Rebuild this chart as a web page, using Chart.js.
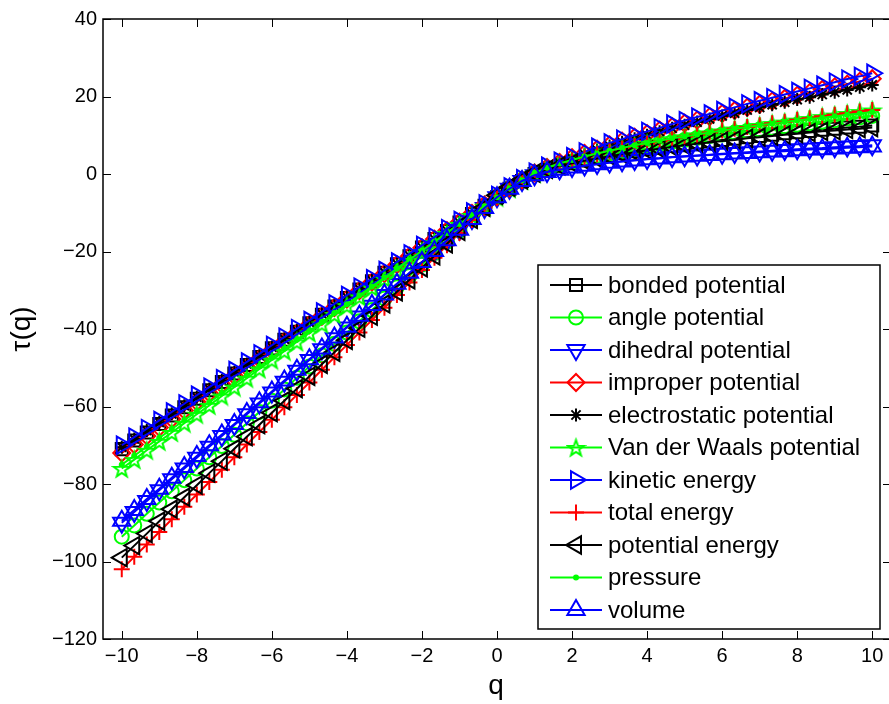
<!DOCTYPE html>
<html>
<head>
<meta charset="utf-8">
<script src="https://cdn.jsdelivr.net/npm/chart.js@4.4.0/dist/chart.umd.min.js"></script>
<style>
html, body { margin: 0; padding: 0; background: #fff; overflow: hidden; }
canvas { display: block; }
</style>
</head>
<body>
<canvas id="tau-chart" width="903" height="704"></canvas>
<script>
// tau(q) curves

var Q = [
	-10, -9.667, -9.333, -9, -8.667, -8.333, -8, -7.667, -7.333, -7,
	-6.667, -6.333, -6, -5.667, -5.333, -5, -4.667, -4.333, -4, -3.667,
	-3.333, -3, -2.667, -2.333, -2, -1.667, -1.333, -1, -0.667, -0.333,
	0, 0.333, 0.667, 1, 1.333, 1.667, 2, 2.333, 2.667, 3,
	3.333, 3.667, 4, 4.333, 4.667, 5, 5.333, 5.667, 6, 6.333,
	6.667, 7, 7.333, 7.667, 8, 8.333, 8.667, 9, 9.333, 9.667, 10
];

var bonded = [
	-71, -68.8, -66.7, -64.5, -62.3, -60.2, -58.0, -55.8, -53.7, -51.5, -49.3, -47.2, -45.0, -42.8, -40.7, -38.5,
	-36.3, -34.2, -32.0, -29.8, -27.7, -25.5, -23.3, -21.2, -19.0, -16.8, -14.7, -12.5, -10.3, -8.2, -6.0,
	-3.8, -1.8, 0.0, 1.1, 2.0, 2.8, 3.5, 4.2, 4.8, 5.4, 5.9, 6.4, 6.8, 7.3, 7.7,
	8.1, 8.4, 8.8, 9.1, 9.5, 9.8, 10.1, 10.5, 10.8, 11.1, 11.4, 11.7, 12.0, 12.2, 12.5
];
var angle = [
	-93.6, -90.7, -87.7, -84.8, -81.9, -79.0, -76.0, -73.1, -70.2, -67.3, -64.3, -61.4, -58.5, -55.6, -52.6, -49.7,
	-46.8, -43.8, -40.9, -38.0, -35.1, -32.1, -29.2, -26.3, -23.4, -20.4, -17.5, -14.6, -11.6, -8.7, -5.8,
	-3.6, -1.5, 0.2, 1.4, 2.4, 3.2, 4.0, 4.7, 5.4, 6.0, 6.6, 7.2, 7.8, 8.3, 8.8,
	9.3, 9.8, 10.2, 10.7, 11.1, 11.5, 11.9, 12.3, 12.7, 13.1, 13.5, 13.9, 14.3, 14.6, 15.0
];
var dihedral = [
	-90, -87.2, -84.4, -81.6, -78.8, -76.0, -73.2, -70.4, -67.6, -64.8, -62.0, -59.2, -56.4, -53.6, -50.8, -48.0,
	-45.2, -42.4, -39.6, -36.8, -34.0, -31.2, -28.4, -25.6, -22.8, -20.0, -17.2, -14.4, -11.6, -8.8, -6.0,
	-3.8, -1.8, -0.3, 0.5, 1.2, 1.8, 2.2, 2.6, 3.0, 3.3, 3.6, 3.9, 4.1, 4.4, 4.6,
	4.8, 5.0, 5.2, 5.4, 5.6, 5.8, 6.0, 6.2, 6.4, 6.6, 6.7, 6.9, 7.1, 7.2, 7.4
];
var improper = [
	-72, -69.8, -67.6, -65.4, -63.2, -61.0, -58.8, -56.6, -54.3, -52.1, -49.9, -47.7, -45.5, -43.3, -41.1, -38.9,
	-36.7, -34.5, -32.3, -30.1, -27.9, -25.7, -23.4, -21.2, -19.0, -16.8, -14.6, -12.4, -10.2, -8.0, -5.8,
	-3.6, -1.5, 0.3, 1.7, 3.0, 4.2, 5.3, 6.4, 7.5, 8.5, 9.5, 10.4, 11.3, 12.2, 13.1,
	13.9, 14.8, 15.6, 16.4, 17.2, 18.0, 18.8, 19.5, 20.3, 21.0, 21.8, 22.5, 23.2, 23.9, 24.6
];
var electrostatic = [
	-70.5, -68.4, -66.2, -64.1, -61.9, -59.8, -57.6, -55.5, -53.3, -51.2, -49.0, -46.9, -44.7, -42.6, -40.4, -38.3,
	-36.1, -34.0, -31.8, -29.7, -27.5, -25.4, -23.2, -21.1, -18.9, -16.8, -14.6, -12.5, -10.3, -8.2, -6.0,
	-3.8, -1.7, 0.2, 1.6, 2.9, 4.0, 5.1, 6.2, 7.2, 8.2, 9.1, 10.0, 10.9, 11.8, 12.6,
	13.4, 14.2, 15.0, 15.7, 16.5, 17.2, 17.9, 18.5, 19.2, 19.8, 20.5, 21.1, 21.7, 22.4, 23.0
];
var vanDerWaals = [
	-76, -73.7, -71.3, -69.0, -66.7, -64.3, -62.0, -59.7, -57.3, -55.0, -52.7, -50.3, -48.0, -45.7, -43.3, -41.0,
	-38.7, -36.3, -34.0, -31.7, -29.3, -27.0, -24.7, -22.3, -20.0, -17.7, -15.3, -13.0, -10.7, -8.3, -6.0,
	-3.8, -1.7, 0.2, 1.5, 2.6, 3.5, 4.4, 5.2, 5.9, 6.6, 7.3, 7.9, 8.5, 9.1, 9.6,
	10.1, 10.6, 11.1, 11.6, 12.0, 12.5, 13.0, 13.4, 13.9, 14.3, 14.8, 15.2, 15.6, 16.1, 16.5
];
var kinetic = [
	-70, -67.9, -65.7, -63.6, -61.4, -59.3, -57.1, -55.0, -52.8, -50.7, -48.5, -46.4, -44.2, -42.1, -39.9, -37.8,
	-35.6, -33.5, -31.3, -29.2, -27.0, -24.9, -22.7, -20.6, -18.4, -16.3, -14.1, -12.0, -9.8, -7.7, -5.5,
	-3.3, -1.2, 0.5, 2.0, 3.3, 4.5, 5.7, 6.9, 8.0, 9.0, 10.0, 11.0, 11.9, 12.9, 13.8,
	14.7, 15.5, 16.4, 17.2, 18.1, 18.9, 19.7, 20.5, 21.3, 22.1, 22.9, 23.7, 24.5, 25.2, 26.0
];
var totalEnergy = [
	-102, -98.8, -95.6, -92.4, -89.1, -85.9, -82.7, -79.5, -76.3, -73.1, -69.8, -66.6, -63.4, -60.2, -57.0, -53.8,
	-50.5, -47.3, -44.1, -40.9, -37.7, -34.5, -31.2, -28.0, -24.8, -21.6, -18.4, -15.2, -11.9, -8.7, -5.5,
	-3.2, -1.2, 0.5, 1.7, 2.7, 3.5, 4.3, 5.1, 5.8, 6.5, 7.2, 7.8, 8.4, 9.0, 9.6,
	10.1, 10.7, 11.2, 11.7, 12.1, 12.6, 13.1, 13.5, 14.0, 14.4, 14.9, 15.3, 15.7, 16.1, 16.5
];
var potentialEnergy = [
	-99, -95.9, -92.8, -89.6, -86.5, -83.4, -80.3, -77.2, -74.1, -70.9, -67.8, -64.7, -61.6, -58.5, -55.4, -52.2,
	-49.1, -46.0, -42.9, -39.8, -36.7, -33.5, -30.4, -27.3, -24.2, -21.1, -18.0, -14.8, -11.7, -8.6, -5.5,
	-3.4, -1.5, 0.2, 1.2, 2.1, 2.8, 3.4, 4.0, 4.6, 5.1, 5.6, 6.1, 6.5, 7.0, 7.4,
	7.8, 8.1, 8.5, 8.8, 9.2, 9.5, 9.8, 10.1, 10.4, 10.7, 11.0, 11.2, 11.5, 11.7, 12.0
];
var pressure = [
	-75, -72.7, -70.4, -68.1, -65.8, -63.5, -61.2, -58.9, -56.6, -54.3, -52.0, -49.7, -47.4, -45.1, -42.8, -40.5,
	-38.2, -35.9, -33.6, -31.3, -29.0, -26.7, -24.4, -22.1, -19.8, -17.5, -15.2, -12.9, -10.6, -8.3, -6.0,
	-3.7, -1.6, 0.3, 1.6, 2.7, 3.6, 4.5, 5.3, 6.0, 6.7, 7.4, 8.0, 8.6, 9.2, 9.7,
	10.2, 10.7, 11.2, 11.7, 12.1, 12.6, 13.0, 13.4, 13.8, 14.2, 14.5, 14.9, 15.3, 15.6, 16.0
];
var volume = [
	-89.5, -86.7, -83.9, -81.2, -78.4, -75.6, -72.8, -70.0, -67.2, -64.5, -61.7, -58.9, -56.1, -53.3, -50.5, -47.8,
	-45.0, -42.2, -39.4, -36.6, -33.8, -31.1, -28.3, -25.5, -22.7, -19.9, -17.1, -14.4, -11.6, -8.8, -6.0,
	-3.8, -1.8, -0.3, 0.5, 1.1, 1.7, 2.1, 2.5, 2.9, 3.2, 3.5, 3.8, 4.0, 4.3, 4.5,
	4.7, 4.9, 5.1, 5.3, 5.4, 5.6, 5.8, 5.9, 6.1, 6.3, 6.4, 6.6, 6.8, 6.9, 7.1
];

var seriesLabels = [
	'bonded potential', 'angle potential', 'dihedral potential', 'improper potential',
	'electrostatic potential', 'Van der Waals potential', 'kinetic energy', 'total energy',
	'potential energy', 'pressure', 'volume'
];
var seriesValues = [
	bonded, angle, dihedral, improper, electrostatic, vanDerWaals,
	kinetic, totalEnergy, potentialEnergy, pressure, volume
];

var xTicks = [-10, -8, -6, -4, -2, 0, 2, 4, 6, 8, 10];
var yTicks = [-120, -100, -80, -60, -40, -20, 0, 20, 40];

var FONT = "'Liberation Sans', Arial, Helvetica, sans-serif";

// 5 point star, matlab 'p'
function makePentagram(color, size, lw) {
	var c = document.createElement('canvas');
	c.width = size;
	c.height = size;
	var g = c.getContext('2d');
	var cx = size / 2, cy = size / 2 + 1;
	var R = size / 2 - lw;
	var r = R * 0.40;
	g.beginPath();
	for (var i = 0; i < 10; i++) {
		var a = -Math.PI / 2 + i * Math.PI / 5;
		var rr = (i % 2 === 0) ? R : r;
		g.lineTo(cx + rr * Math.cos(a), cy + rr * Math.sin(a));
	}
	g.closePath();
	g.strokeStyle = color;
	g.lineWidth = lw;
	g.stroke();
	return c;
}

var BLACK = '#000000', GREEN = '#00ff00', BLUE = '#0000ff', RED = '#ff0000';

var markers = [
	{ color: BLACK, style: 'rect', radius: 8.5, rotation: 0 },
	{ color: GREEN, style: 'circle', radius: 7, rotation: 0 },
	{ color: BLUE, style: 'triangle', radius: 10, rotation: 180 },
	{ color: RED, style: 'rectRot', radius: 8.5, rotation: 0 },
	{ color: BLACK, style: 'star', radius: 6.5, rotation: 0 },
	{ color: GREEN, style: makePentagram(GREEN, 21, 2), radius: 10, rotation: 0 },
	{ color: BLUE, style: 'triangle', radius: 10, rotation: 90 },
	{ color: RED, style: 'cross', radius: 8, rotation: 0 },
	{ color: BLACK, style: 'triangle', radius: 10, rotation: 270 },
	{ color: GREEN, style: 'circle', radius: 2, rotation: 0, filled: true },
	{ color: BLUE, style: 'triangle', radius: 10, rotation: 0 }
];

var datasets = seriesValues.map(function (vals, i) {
	var m = markers[i];
	return {
		label: seriesLabels[i],
		data: vals.map(function (v, k) { return { x: Q[k], y: v }; }),
		borderColor: m.color,
		borderWidth: 2,
		fill: false,
		tension: 0,
		pointStyle: m.style,
		pointRadius: m.radius,
		pointRotation: m.rotation,
		pointBorderColor: m.color,
		pointBorderWidth: 2,
		pointBackgroundColor: m.filled ? m.color : 'rgba(0,0,0,0)',
		order: seriesValues.length - 1 - i
	};
});

function fmtTick(v) {
	return v < 0 ? '\u2212' + Math.abs(v) : String(v);
}

// box, inward ticks, axis titles, legend inside the axes
var matlabAxes = {
	id: 'matlabAxes',
	afterDraw: function (chart) {
		var ctx = chart.ctx;
		var a = chart.chartArea;
		var xs = chart.scales.x, ys = chart.scales.y;
		ctx.save();
		ctx.strokeStyle = '#000';
		ctx.lineWidth = 1.5;
		ctx.strokeRect(a.left, a.top, a.right - a.left, a.bottom - a.top);
		ctx.lineWidth = 1;
		ctx.beginPath();
		xTicks.forEach(function (v) {
			var px = Math.round(xs.getPixelForValue(v)) + 0.5;
			ctx.moveTo(px, a.bottom); ctx.lineTo(px, a.bottom - 8);
			ctx.moveTo(px, a.top); ctx.lineTo(px, a.top + 8);
		});
		yTicks.forEach(function (v) {
			var py = Math.round(ys.getPixelForValue(v)) + 0.5;
			ctx.moveTo(a.left, py); ctx.lineTo(a.left + 8, py);
			ctx.moveTo(a.right, py); ctx.lineTo(a.right - 8, py);
		});
		ctx.stroke();

		// axis titles
		ctx.fillStyle = '#000';
		ctx.font = '28px ' + FONT;
		ctx.textAlign = 'center';
		ctx.textBaseline = 'alphabetic';
		ctx.fillText('q', 496, 694);
		ctx.save();
		ctx.translate(30, (a.top + a.bottom) / 2);
		ctx.rotate(-Math.PI / 2);
		ctx.fillText('\u03c4(q)', 0, 0);
		ctx.restore();

		// legend
		var lx = 538, ly = 265, lw = 342, lh = 364;
		ctx.fillStyle = '#fff';
		ctx.fillRect(lx, ly, lw, lh);
		ctx.lineWidth = 1.5;
		ctx.strokeStyle = '#000';
		ctx.strokeRect(lx, ly, lw, lh);
		ctx.font = '24px ' + FONT;
		ctx.textAlign = 'left';
		ctx.textBaseline = 'middle';
		seriesLabels.forEach(function (name, i) {
			var m = markers[i];
			var ry = 285 + i * 32.5;
			ctx.strokeStyle = m.color;
			ctx.lineWidth = 2;
			ctx.beginPath();
			ctx.moveTo(550, ry);
			ctx.lineTo(602, ry);
			ctx.stroke();
			ctx.fillStyle = m.filled ? m.color : 'rgba(0,0,0,0)';
			ctx.strokeStyle = m.color;
			Chart.helpers.drawPoint(ctx, {
				pointStyle: m.style, rotation: m.rotation, radius: m.radius, borderWidth: 2
			}, 576, ry);
			ctx.fillStyle = '#000';
			ctx.fillText(name, 608, ry + 1);
		});
		ctx.restore();
	}
};

window.addEventListener('load', function () {
	var ctx = document.getElementById('tau-chart').getContext('2d');
	var tauChart = new Chart(ctx, {
		type: 'line',
		data: { datasets: datasets },
		plugins: [matlabAxes],
		options: {
			responsive: false,
			animation: false,
			layout: { padding: { top: 19, right: 1, left: 0, bottom: 0 } },
			plugins: {
				legend: { display: false },
				tooltip: { enabled: false }
			},
			scales: {
				x: {
					type: 'linear',
					min: -10.5,
					max: 10.5,
					grid: { display: false, drawTicks: false },
					border: { display: false },
					afterBuildTicks: function (s) {
						s.ticks = xTicks.map(function (v) { return { value: v }; });
					},
					afterFit: function (s) { s.height = 65; },
					ticks: {
						color: '#000',
						padding: 5,
						maxRotation: 0,
						autoSkip: false,
						font: { family: FONT, size: 20 },
						callback: fmtTick
					}
				},
				y: {
					type: 'linear',
					min: -120,
					max: 40,
					grid: { display: false, drawTicks: false },
					border: { display: false },
					afterBuildTicks: function (s) {
						s.ticks = yTicks.map(function (v) { return { value: v }; });
					},
					afterFit: function (s) { s.width = 103; },
					ticks: {
						color: '#000',
						padding: 6,
						autoSkip: false,
						font: { family: FONT, size: 20 },
						callback: fmtTick
					}
				}
			}
		}
	});
});
</script>
</body>
</html>
